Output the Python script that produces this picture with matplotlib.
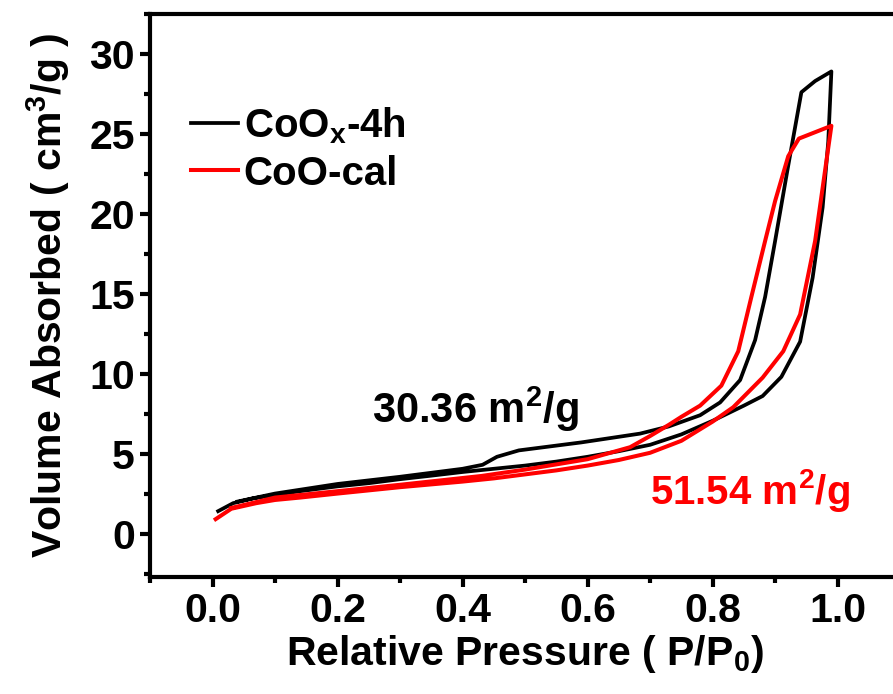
import matplotlib
matplotlib.use('Agg')
import matplotlib.pyplot as plt

# isotherm data (P/P0, volume cm3/g)
p_coox_ads = [0.009, 0.033, 0.065, 0.10, 0.14, 0.20, 0.25, 0.30, 0.35, 0.40, 0.45, 0.50,
              0.55, 0.60, 0.65, 0.70, 0.75, 0.80, 0.85, 0.88, 0.91, 0.94, 0.96, 0.976, 0.985, 0.99]
v_coox_ads = [1.40, 1.90, 2.20, 2.42, 2.65, 2.95, 3.15, 3.40, 3.62, 3.85, 4.05, 4.25,
              4.50, 4.80, 5.15, 5.55, 6.20, 7.05, 8.00, 8.60, 9.80, 12.0, 16.0, 20.4, 24.5, 28.9]
p_coox_des = [0.99, 0.964, 0.942, 0.92, 0.90, 0.884, 0.868, 0.844, 0.812, 0.78, 0.73, 0.684,
              0.59, 0.49, 0.455, 0.432, 0.40, 0.30, 0.20, 0.10, 0.04]
v_coox_des = [28.9, 28.3, 27.6, 22.8, 18.3, 14.8, 12.1, 9.6, 8.2, 7.4, 6.7, 6.25,
              5.7, 5.2, 4.8, 4.3, 4.05, 3.55, 3.10, 2.50, 2.00]

p_cal_ads = [0.005, 0.03, 0.07, 0.10, 0.14, 0.20, 0.30, 0.40, 0.45, 0.50, 0.55, 0.60, 0.65,
             0.70, 0.75, 0.80, 0.833, 0.88, 0.913, 0.94, 0.964, 0.99]
v_cal_ads = [0.90, 1.55, 1.90, 2.10, 2.25, 2.50, 2.90, 3.25, 3.45, 3.70, 3.95, 4.25, 4.60,
             5.05, 5.80, 7.00, 7.90, 9.75, 11.4, 13.7, 18.3, 25.5]
p_cal_des = [0.99, 0.938, 0.921, 0.90, 0.884, 0.862, 0.841, 0.814, 0.78, 0.75, 0.73, 0.70,
             0.668, 0.60, 0.50, 0.43, 0.30, 0.20, 0.10, 0.03]
v_cal_des = [25.5, 24.7, 23.6, 20.8, 18.3, 14.8, 11.4, 9.25, 8.0, 7.3, 6.8, 6.1,
             5.4, 4.65, 4.00, 3.60, 3.05, 2.65, 2.25, 1.60]

xticks = [0.0, 0.2, 0.4, 0.6, 0.8, 1.0]
xtick_labels = ['0.0', '0.2', '0.4', '0.6', '0.8', '1.0']
yticks = [0, 5, 10, 15, 20, 25, 30]

plt.rcParams['font.family'] = 'Liberation Sans'
plt.rcParams['font.weight'] = 'bold'
plt.rcParams['axes.labelweight'] = 'bold'
plt.rcParams['mathtext.fontset'] = 'custom'
plt.rcParams['mathtext.rm'] = 'Liberation Sans:bold'
plt.rcParams['mathtext.bf'] = 'Liberation Sans:bold'

fig = plt.figure(figsize=(8.93, 6.94), dpi=100)
ax = fig.add_axes([0.168, 0.169, 0.84, 0.811])

ax.plot(p_coox_ads + p_coox_des, v_coox_ads + v_coox_des, color='black', lw=2.7,
        label=r'CoO$_\mathregular{x}$-4h')
ax.plot(p_cal_ads + p_cal_des, v_cal_ads + v_cal_des, color='#ff0000', lw=2.9,
        label='CoO-cal')

ax.set_xlim(-0.1, 1.1)
ax.set_ylim(-2.7, 32.5)
ax.set_xticks(xticks)
ax.set_xticks([-0.1, 0.1, 0.3, 0.5, 0.7, 0.9, 1.1], minor=True)
ax.set_yticks(yticks)
ax.set_yticks([-2.5, 2.5, 7.5, 12.5, 17.5, 22.5, 27.5, 32.5], minor=True)
ax.set_xticklabels(xtick_labels)

for s in ax.spines.values():
    s.set_linewidth(3)
ax.tick_params(which='major', direction='out', length=7, width=3, labelsize=29.5, pad=4)
ax.tick_params(which='minor', direction='out', length=4, width=3)

ax.set_xlabel(r'Relative Pressure ( P/P$_\mathregular{0}$)', fontsize=29.5, labelpad=2)
ax.set_ylabel(r'Volume Absorbed ( cm$^\mathregular{3}$/g )', fontsize=29.5, labelpad=12)

ax.text(0.42, 7.8, r'30.36 m$^\mathregular{2}$/g', fontsize=30, color='black',
        ha='center', va='center')
ax.text(0.86, 2.7, r'51.54 m$^\mathregular{2}$/g', fontsize=29, color='#ff0000',
        ha='center', va='center')

ax.legend(loc='upper left', bbox_to_anchor=(0.055, 0.838), frameon=False,
          fontsize=29, handlelength=1.15, handletextpad=0.15, labelspacing=0.22,
          borderaxespad=0, borderpad=0)

fig.savefig('out.png', dpi=100)
